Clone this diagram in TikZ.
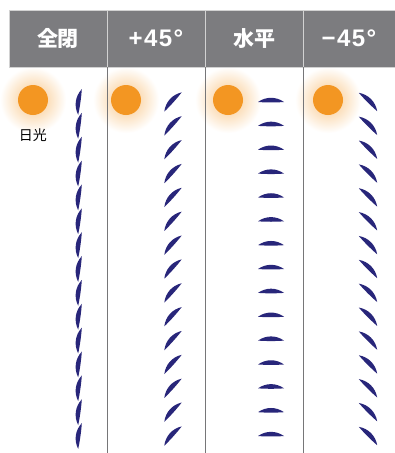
\documentclass[tikz,border=0pt]{standalone}
\usepackage{fontspec}
\setmainfont{Liberation Sans}
\newfontfamily\jpfont{Noto Sans CJK JP}
\usetikzlibrary{positioning}

\definecolor{headgray}{RGB}{124,124,127}
\definecolor{slatblue}{RGB}{40,38,122}
\definecolor{sunorange}{RGB}{243,150,34}
\definecolor{rulegray}{RGB}{118,118,120}

\begin{document}
\begin{tikzpicture}[
    x=1pt, y=1pt,
    headcell/.style={rectangle, fill=headgray, draw=gray!35, line width=0.8pt, minimum height=57pt, minimum width=98pt, inner sep=0pt, text=white, font=\jpfont\bfseries\fontsize{21}{21}\selectfont},
    degrees/.style={font=\bfseries\fontsize{24}{24}\selectfont\addfontfeature{LetterSpace=6}},
    divider/.style={draw=rulegray, line width=1.3pt},
    sun/.style={circle, fill=sunorange, minimum size=30pt, inner sep=0pt},
    slat/.pic={\fill[slatblue] (-13,0) .. controls (-5,5.6) and (5,5.6) .. (13,0) .. controls (5,-0.6) and (-5,-0.6) .. (-13,0);}
]
\useasboundingbox[fill=white] (0,0) rectangle (395,-453);

% Sun glow
\foreach \x in {33,126,228,328}
    \shade[inner color=sunorange!55, outer color=white] (\x,-100) circle (33);

% Header row
\node[headcell] (closed) at (58,-38.5) {全閉};
\node[headcell, degrees] (plus) at (156,-38.5) {+45°};
\node[headcell] (level) at (254,-38.5) {水平};
\node[headcell, degrees, minimum width=92pt] (minus) at (349,-38.5) {−45°};

% Column dividers
\foreach \c in {closed,plus,level}
    \draw[divider] (\c.south east) -- ++(0,-386);

% Suns
\node[sun] (suna) at (33,-100) {};
\node[sun] (sunb) at (126,-100) {};
\node[sun] (sunc) at (228,-100) {};
\node[sun] (sund) at (328,-100) {};
\node[font=\jpfont\fontsize{14}{14}\selectfont, below=10pt of suna] (daylight) {日光};

% Slats, one column per angle
\foreach \col/\ang in {80/82, 173/48, 271/0, 368/-45}
    \foreach \i in {0,...,14}
        \pic[rotate=\ang] at (\col,{-102-23.86*\i}) {slat};

\end{tikzpicture}
\end{document}
